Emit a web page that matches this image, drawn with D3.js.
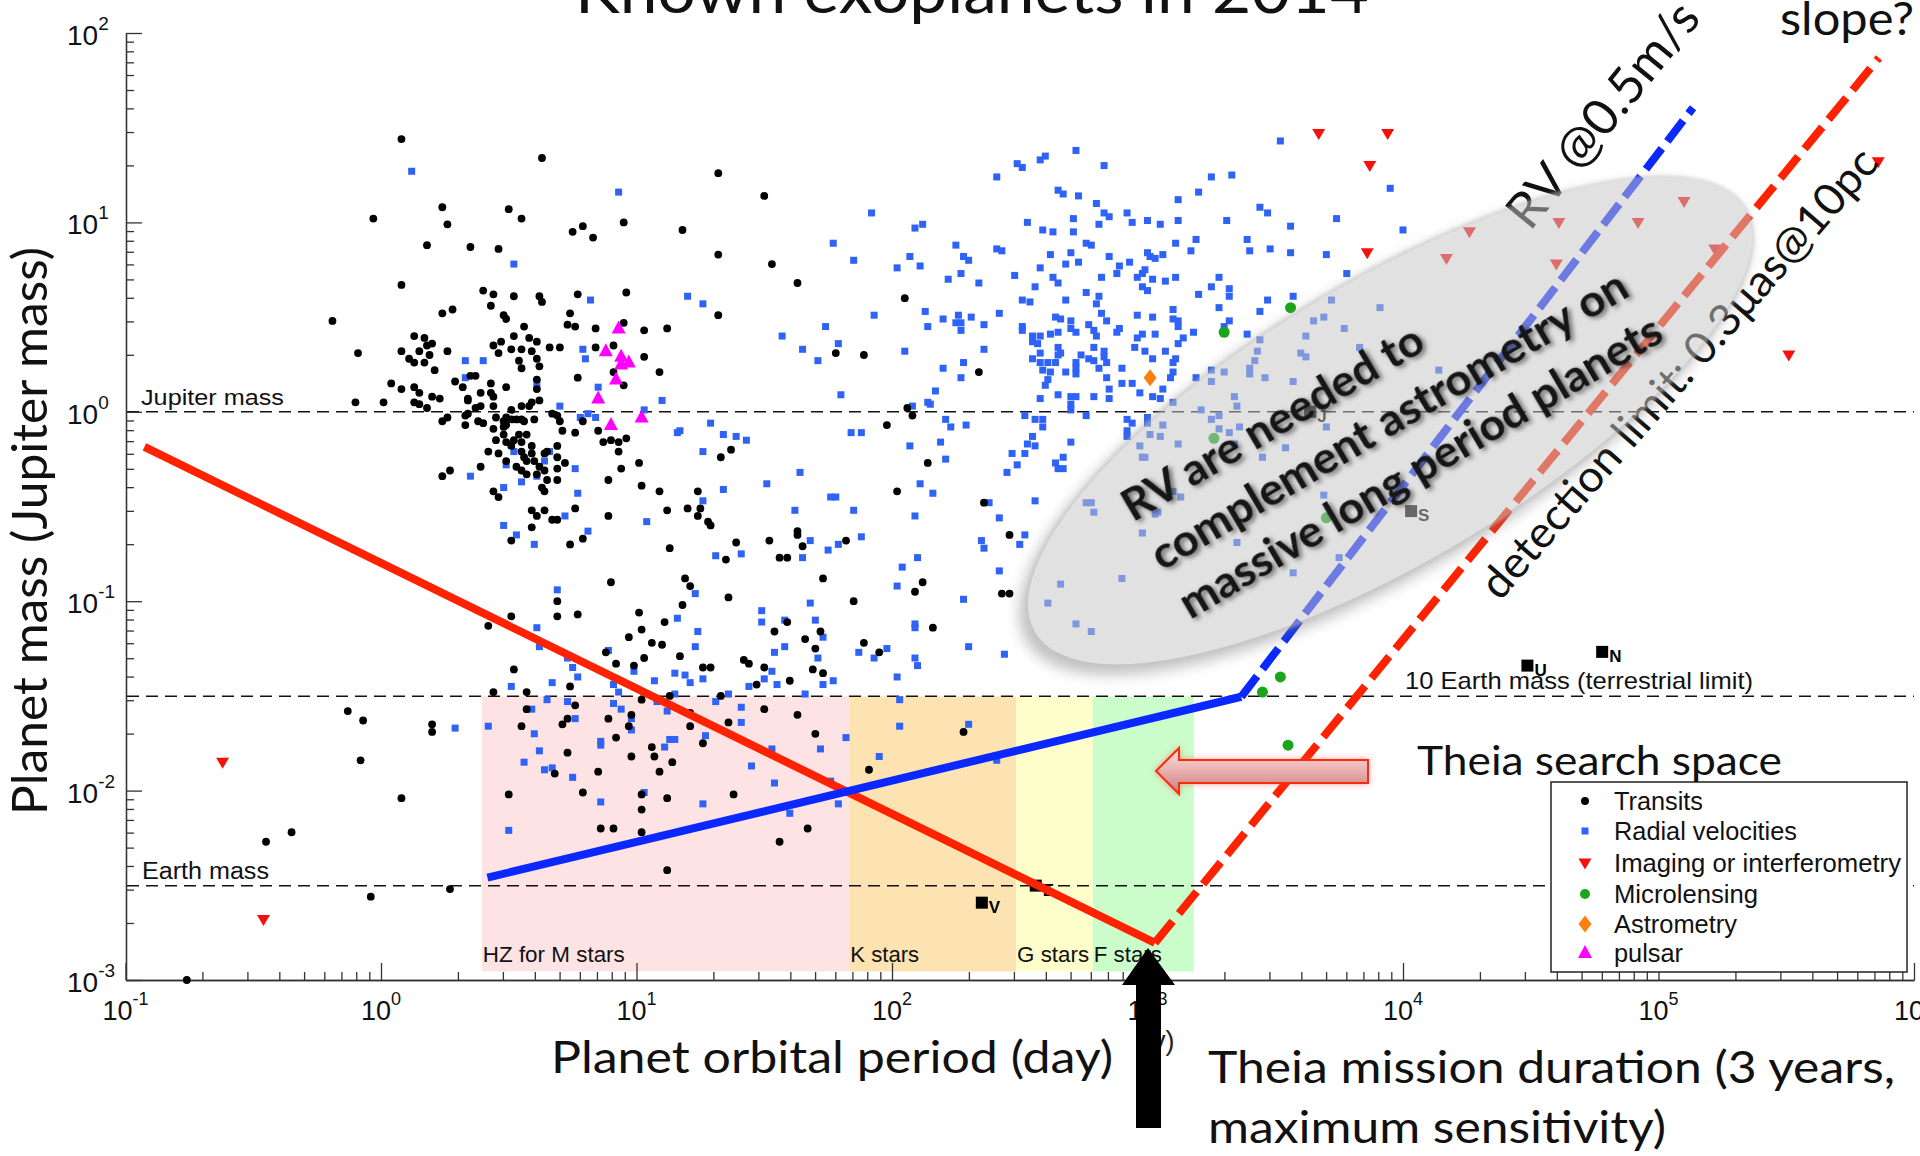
<!DOCTYPE html>
<html>
<head>
<meta charset="utf-8">
<script src="https://cdn.jsdelivr.net/npm/d3@7"></script>
<style>
body { margin: 0; background: #fff; }
svg { display: block; }
.mat { font-family: 'Liberation Sans', Arial, sans-serif; }
.cal { font-family: Lato, 'Open Sans', sans-serif; }
</style>
</head>
<body>
<svg id="chart" width="1920" height="1156"></svg>
<script>
'use strict';

// every planet is [log10 period (day), log10 mass (Jupiter mass)]
var transits = [
  [0.08,1.44],[0.63,1.34],[0.24,1.08],[0.26,0.99],[-0.03,1.02],[0.50,1.07],[0.55,1.02],[0.18,0.88],[0.35,0.87],[0.46,0.86],
  [0.75,0.95],[0.79,0.98],[0.83,0.92],[0.95,1.00],[1.18,0.96],[-0.76,-3.0],[-0.45,-2.27],[-0.35,-2.22],
  [-0.19,0.48],[0.08,0.67],[0.40,0.64],[0.44,0.62],[0.52,0.61],[0.43,0.56],[0.62,0.61],[0.63,0.58],[0.77,0.62],[0.96,0.63],
  [0.24,0.52],[0.28,0.54],[0.48,0.51],[0.49,0.49],[0.56,0.45],[0.74,0.52],[0.73,0.46],[0.76,0.45],[0.84,0.44],[0.95,0.47],
  [1.03,0.43],[1.12,0.44],[1.32,0.51],[-0.09,0.31],[0.13,0.40],[0.17,0.39],[0.20,0.36],[0.18,0.35],[0.08,0.32],[0.15,0.32],
  [0.19,0.30],[0.11,0.28],[0.13,0.26],[0.17,0.26],[0.21,0.22],[0.26,0.32],[0.44,0.35],[0.47,0.37],[0.46,0.31],[0.52,0.40],
  [0.51,0.33],[0.55,0.33],[0.58,0.39],[0.59,0.32],[0.61,0.37],[0.54,0.27],[0.55,0.23],[0.61,0.28],[0.62,0.24],[0.66,0.34],
  [0.70,0.34],[0.61,0.17],[0.61,0.12],[0.84,0.34],[0.91,0.35],[1.03,0.29],[0.91,0.21],[0.95,0.14],[0.77,0.18],[1.09,0.21],
  [0.04,0.15],[0.08,0.12],[0.13,0.13],[0.15,0.10],[0.20,0.08],[0.23,0.07],[0.13,0.05],[0.15,0.04],[0.18,0.02],[-0.10,0.05],
  [0.01,0.05],[0.29,0.16],[0.32,0.13],[0.35,0.19],[0.37,0.19],[0.43,0.15],[0.49,0.13],[0.39,0.10],[0.43,0.10],[0.34,0.07],
  [0.39,0.03],[0.44,0.08],[0.34,0.06],[0.34,-0.01],[0.37,0.02],[0.44,0.03],[0.55,0.03],[0.58,0.03],[0.59,0.05],[0.62,0.06],
  [0.51,0.01],[0.49,-0.03],[0.33,-0.02],[0.33,-0.07],[0.26,-0.03],[0.24,-0.05],[0.38,-0.05],[0.40,-0.06],[0.45,-0.03],[0.48,-0.05],
  [0.51,-0.04],[0.48,-0.08],[0.44,-0.09],[0.49,-0.07],[0.53,-0.04],[0.55,-0.04],[0.56,-0.05],[0.60,-0.04],[0.67,-0.01],[0.69,-0.02],
  [0.70,-0.05],[0.71,-0.10],[0.76,-0.11],[0.79,-0.05],[0.85,-0.10],[0.48,-0.12],[0.45,-0.15],[0.52,-0.15],[0.54,-0.12],[0.57,-0.12],
  [0.49,-0.16],[0.51,-0.18],[0.55,-0.16],[0.59,-0.18],[0.42,-0.21],[0.46,-0.22],[0.49,-0.26],[0.55,-0.21],[0.56,-0.24],[0.57,-0.26],
  [0.59,-0.22],[0.64,-0.22],[0.65,-0.21],[0.60,-0.26],[0.53,-0.29],[0.55,-0.31],[0.57,-0.33],[0.62,-0.29],[0.64,-0.31],[0.61,-0.33],
  [0.65,-0.36],[0.69,-0.36],[0.69,-0.24],[0.69,-0.18],[0.69,-0.30],[0.72,-0.27],[0.63,-0.40],[0.64,-0.42],[0.39,-0.29],[0.24,-0.34],
  [0.27,-0.31],[0.44,-0.42],[0.46,-0.45],[0.59,-0.52],[0.61,-0.55],[0.64,-0.52],[0.59,-0.61],[0.67,-0.57],[0.69,-0.57],[0.76,-0.51],
  [0.79,-0.67],[0.74,-0.70],[0.51,-0.68],[0.87,-0.16],[0.90,-0.15],[0.93,-0.16],[0.96,-0.14],[0.93,-0.21],[0.89,-0.36],[1.01,-0.27],
  [0.94,-0.30],[1.02,-0.39],[1.09,-0.42],[0.89,-0.55],[1.12,-0.52],[1.20,-0.51],[1.24,-0.42],[1.25,-0.51],[1.24,-0.55],[1.28,-0.58],
  [1.29,-0.60],[1.33,-0.24],[1.37,-0.20],[1.13,-0.72],[1.35,-0.78],[1.39,-0.69],[1.36,-0.98],[0.90,-0.90],[1.19,-0.88],[1.21,-0.92],
  [1.18,-1.02],[1.01,-1.06],[1.11,-1.11],[1.02,-1.15],[0.97,-1.19],[0.69,-1.00],[0.69,-1.08],[0.77,-1.07],[0.51,-1.08],[0.42,-1.13],
  [-0.13,-1.58],[-0.07,-1.63],[-0.08,-1.84],[0.20,-1.65],[0.20,-1.69],[0.08,-2.04],[0.27,-2.52],[-0.04,-2.56],
  [0.52,-1.36],[0.44,-1.48],[0.57,-1.48],[0.57,-1.57],[0.55,-1.66],[0.74,-1.45],[0.76,-1.55],[0.73,-1.62],[0.71,-1.65],[0.73,-1.80],
  [0.68,-1.91],[0.50,-2.02],[0.79,-2.01],[0.85,-1.90],[0.86,-2.20],[0.91,-2.20],[0.88,-1.27],[0.99,-1.34],[1.03,-1.30],[1.06,-1.22],
  [1.10,-1.23],[1.17,-1.29],[0.92,-1.33],[1.02,-1.52],[0.98,-1.60],[0.97,-1.66],[0.89,-1.62],[0.92,-1.72],[1.06,-1.77],[1.07,-1.82],
  [0.98,-1.82],[1.14,-1.85],[1.09,-1.90],[1.02,-2.02],[1.12,-2.04],[1.02,-2.10],[1.02,-2.22],[1.12,-2.42],[1.13,-1.50],[1.21,-1.66],[1.21,-1.59],
  [1.33,-1.50],[1.26,-1.35],[1.29,-1.35],[1.42,-1.31],[1.44,-1.33],[1.50,-1.35],[1.47,-1.44],[1.60,-1.42],[1.69,-1.36],[1.73,-1.38],
  [1.50,-1.57],[1.63,-1.60],[1.36,-1.64],[1.70,-1.70],[1.26,-1.75],[1.38,-2.02],[1.67,-2.20],[1.56,-2.27],[1.91,-1.89],[2.28,-1.69],
  [1.52,-0.68],[1.63,-0.63],[1.63,-0.65],[1.65,-0.71],[1.56,-0.77],[1.59,-0.77],[1.82,-0.68],[1.73,-0.88],[1.85,-1.00],[1.59,-1.11],
  [1.54,-1.16],[1.72,-1.16],[1.66,-1.20],[1.70,-1.25],[2.02,-0.42],[2.14,-0.27],[2.36,-0.48],[2.46,-0.65],[2.43,-0.96],[2.46,-0.96],
  [2.09,-0.95],[2.12,-0.90],[1.89,-1.22],[1.95,-1.27],[2.16,-1.14],
  [1.32,1.26],[1.50,1.14],[1.32,0.83],[1.53,0.78],[1.63,0.68],[2.05,0.60],[1.78,0.31],[1.89,0.30],[2.34,0.21],[2.06,0.02],[2.08,-0.02],[1.98,-0.07]
];

var radialVelocities = [
  [0.12,1.27],[0.93,1.16],[0.52,0.78],[1.20,0.61],
  [0.82,0.59],[1.26,0.57],[0.79,0.33],[0.80,0.28],[0.33,0.27],[0.40,0.27],[0.33,0.18],[0.61,0.14],[0.85,0.13],[1.10,0.06],
  [0.70,0.03],[1.03,0.01],[0.78,-0.03],[0.81,-0.01],[0.84,-0.03],[1.29,-0.06],[1.16,-0.11],[1.17,-0.10],[1.34,-0.12],[1.39,-0.13],
  [1.43,-0.15],[1.26,-0.21],[0.66,-0.21],[0.64,-0.26],[0.49,-0.28],[0.76,-0.30],[0.61,-0.34],[0.35,-0.34],[0.55,-0.37],[0.48,-0.40],
  [0.77,-0.43],[1.34,-0.41],[1.26,-0.47],[0.72,-0.55],[1.04,-0.58],[0.48,-0.60],[0.53,-0.65],[0.60,-0.70],[0.81,-0.63],[1.31,-0.76],
  [1.41,-0.75],[0.69,-0.94],[1.23,-0.96],[0.61,-1.14],[1.24,-1.16],[0.52,-0.21],[1.16,-1.09],
  [0.29,-1.67],[0.42,-1.66],[0.50,-2.21],[0.51,-1.45],[0.62,-1.24],[0.59,-1.57],[0.60,-1.70],[0.56,-1.85],[0.62,-1.79],[0.64,-1.89],
  [0.67,-1.88],[0.65,-1.52],[0.67,-1.43],[0.73,-1.30],[0.75,-1.35],[0.77,-1.40],[0.73,-1.53],[0.76,-1.62],[0.75,-1.93],[0.86,-2.06],
  [0.86,-1.76],[0.86,-1.74],[0.91,-1.54],[0.94,-1.57],[0.91,-1.44],[0.93,-1.48],[0.99,-1.37],[0.89,-1.26],[0.98,-1.68],[0.98,-1.62],
  [1.03,-2.01],[1.07,-1.42],[1.08,-1.53],[1.11,-1.77],[1.12,-1.58],[1.13,-1.73],[1.15,-1.73],[1.15,-1.38],[1.15,-1.49],[1.19,-1.39],
  [1.21,-1.43],[1.23,-1.24],
  [1.64,-0.32],[1.51,-0.38],[1.62,-0.52],[1.76,-0.45],[1.78,-0.45],[1.85,-0.52],[1.68,-0.68],[1.65,-0.77],[1.75,-0.73],[1.79,-0.70],
  [1.88,-0.66],[1.68,-1.01],[1.49,-1.05],[1.49,-1.11],[1.58,-1.10],[1.70,-1.10],[1.73,-1.19],[1.54,-1.27],[1.58,-1.24],[1.71,-1.30],
  [1.53,-1.37],[1.50,-1.41],[1.55,-1.44],[1.44,-1.45],[1.73,-1.44],[1.77,-1.42],[1.26,-1.41],[1.66,-1.49],[1.36,-1.49],[1.31,-1.53],
  [1.41,-1.56],[1.41,-1.64],[1.27,-1.71],[1.53,-1.78],[1.72,-1.78],[1.82,-1.72],[1.45,-1.87],[1.54,-1.96],[1.26,-2.07],[1.60,-2.12],
  [1.79,-2.07],[1.76,-1.95],[2.09,-0.55],[2.11,-0.38],[2.16,-0.43],[2.21,-0.25],[2.10,-0.77],[2.04,-0.82],[2.02,-0.92],[2.09,-1.12],
  [2.09,-1.14],[2.09,-1.30],[2.10,-1.34],[2.02,-1.40],[1.98,-1.25],[1.87,-1.27],[1.93,-1.30],[2.28,-0.99],[2.30,-1.24],[2.44,-1.28],
  [2.42,-0.84],[2.35,-0.68],[2.36,-0.72],[2.42,-0.56],[2.50,-0.70],[2.52,-0.65],[2.56,-0.47],[2.38,-0.48],[2.45,-0.32],[2.49,-0.28],
  [2.47,-0.22],[2.52,-0.22],[2.64,-0.27],[2.65,-0.30],[2.67,-0.30],[2.67,-0.24],[2.03,-1.52],[2.03,-1.66],[1.95,-1.82],[2.30,-1.65],
  [2.41,-1.84],[2.76,-0.48],[2.78,-0.48],[2.79,-0.53],[2.98,-0.64],[2.90,-0.88],[2.66,-0.91],[2.61,-1.01],[2.72,-1.12],[2.78,-1.16],
  [3.04,-0.53],[3.10,-0.42],[3.13,-0.45],[2.98,-0.24],
  [1.92,1.05],[1.77,0.89],[1.85,0.80],[2.09,0.97],[2.12,0.99],[2.02,0.76],[2.07,0.82],[2.11,0.77],[2.25,0.88],[2.28,0.82],
  [2.30,0.80],[2.22,0.70],[2.27,0.73],[2.34,0.68],[1.57,0.40],[1.65,0.33],[1.71,0.27],[1.74,0.45],[1.79,0.36],[1.80,0.09],
  [1.93,0.51],[2.05,0.32],[2.13,0.53],[2.14,0.45],[2.20,0.49],[2.26,0.51],[2.25,0.47],[2.27,0.47],[2.27,0.43],[2.31,0.50],
  [2.36,0.46],[2.20,0.23],[2.27,0.18],[2.28,0.26],[2.36,0.33],[2.17,0.11],[2.14,0.05],[2.15,0.04],[2.08,0.03],[2.21,-0.04],
  [2.23,-0.08],[2.29,-0.07],[2.19,-0.16],[2.07,-0.18],[1.84,-0.11],[1.88,-0.11],[2.42,0.52],[2.41,1.24],[2.49,1.31],[2.51,1.29],
  [2.58,1.33],[2.60,1.35],[2.72,1.38],[2.83,1.30],[2.65,1.17],[2.67,1.15],[2.73,1.14],[2.80,1.10],[2.83,1.05],[2.85,1.03],
  [2.92,1.05],[2.94,1.00],[3.00,1.01],[3.05,0.99],[3.12,1.01],[3.12,1.12],[3.20,1.16],[2.53,1.00],[2.71,1.02],[2.59,0.96],
  [2.63,0.95],[2.71,0.95],[2.81,0.99],[2.41,0.86],[2.43,0.85],[2.62,0.83],[2.70,0.84],[2.76,0.89],[2.78,0.88],[2.85,0.82],
  [2.89,0.77],[2.93,0.79],[3.00,0.84],[3.01,0.82],[3.03,0.81],[3.06,0.83],[3.11,0.89],[3.17,0.85],[3.19,0.91],[2.48,0.72],
  [2.58,0.76],[2.68,0.78],[2.73,0.79],[2.63,0.71],[2.65,0.68],[2.56,0.66],[2.82,0.71],[2.88,0.73],[2.96,0.71],[2.98,0.73],
  [2.99,0.75],[3.02,0.70],[3.07,0.69],[3.11,0.71],[2.98,0.66],[3.00,0.64],[2.76,0.63],[2.68,0.59],[2.81,0.61],[2.80,0.57],
  [2.51,0.59],[2.54,0.58],[3.20,0.62],[2.51,0.45],[2.51,0.43],[2.55,0.40],[2.58,0.40],[2.55,0.37],[2.57,0.36],[2.62,0.41],
  [2.65,0.42],[2.64,0.50],[2.66,0.49],[2.70,0.48],[2.70,0.44],[2.72,0.42],[2.77,0.46],[2.79,0.43],[2.80,0.40],[2.84,0.48],
  [2.88,0.42],[2.89,0.44],[2.82,0.52],[2.96,0.51],[3.02,0.50],[3.10,0.54],[3.10,0.49],[3.12,0.48],[3.12,0.45],[2.98,0.41],
  [3.03,0.41],[2.96,0.39],[2.95,0.34],[2.99,0.32],[3.02,0.28],[3.07,0.32],[3.12,0.36],[3.14,0.39],[3.18,0.42],[2.65,0.34],
  [2.66,0.31],[2.65,0.30],[2.58,0.31],[2.55,0.28],[2.58,0.26],[2.61,0.26],[2.64,0.26],[2.59,0.22],[2.62,0.21],[2.61,0.17],
  [2.60,0.14],[2.68,0.21],[2.72,0.26],[2.74,0.30],[2.77,0.28],[2.79,0.27],[2.81,0.23],[2.83,0.32],[2.83,0.29],[2.84,0.26],
  [2.79,0.34],[2.72,0.23],[2.72,0.20],[2.90,0.23],[2.84,0.18],[2.85,0.12],[2.85,0.07],[2.79,0.08],[2.72,0.08],[2.70,0.08],
  [2.65,0.09],[2.58,0.07],[2.90,0.15],[2.94,0.15],[2.97,0.10],[3.02,0.08],[3.05,0.07],[3.06,0.12],[3.10,0.26],[3.11,0.28],
  [3.10,0.21],[3.09,0.18],[2.70,0.04],[2.70,0.01],[2.76,-0.02],[2.52,-0.02],[2.56,-0.04],[2.59,-0.04],[2.59,-0.08],[2.55,-0.13],
  [2.53,-0.17],[2.56,-0.18],[2.70,-0.16],[2.92,-0.04],[2.94,-0.06],[2.92,-0.10],[2.92,-0.13],[3.00,-0.03],[3.00,-0.06],[3.19,0.18],[3.10,0.05],
  [3.52,1.43],[3.33,1.25],[3.25,1.24],[3.44,1.08],[3.47,1.05],[3.31,1.01],[3.56,0.98],[3.39,0.91],[3.40,0.85],[3.48,0.86],
  [3.56,0.84],[3.28,0.71],[3.25,0.66],[3.32,0.65],[3.32,0.61],[3.28,0.55],[3.47,0.59],[3.44,0.53],[3.57,0.61],[3.32,0.48],[3.30,0.45],[3.39,0.41],
  [3.95,1.18],[4.00,0.96],[3.74,1.02],[3.70,0.83],[3.78,0.73],[3.72,0.59],[3.91,0.55],[3.44,0.38],[3.65,0.48],[3.69,0.50],
  [3.77,0.44],[3.83,0.34],[3.43,0.32],[3.42,0.27],[3.62,0.40],[3.60,0.31],[3.62,0.29],[4.14,0.22],[3.25,0.16],[3.57,0.16],
  [3.25,0.22],[3.30,0.21],[3.40,0.23],[3.40,0.20],[3.46,0.18],[3.34,0.08],[3.21,0.01],[3.25,-0.04],[3.36,-0.08],[3.70,-0.08],
  [3.35,0.03],[3.28,-0.02],[3.28,-0.09],[3.32,-0.11],[3.26,-0.14],[3.54,-0.19],[3.45,-0.24],[3.34,-0.17],[3.06,-0.07],[3.01,-0.12],
  [3.05,-0.13],[2.97,-0.18],[2.99,-0.24],[3.12,-0.17],[3.69,-0.44],[3.03,-0.54],[3.35,-0.69],[3.57,-0.85],[3.75,-0.77]
];

var imaging = [
  [-0.62,-1.85],[-0.46,-2.68],[3.67,1.47],[3.94,1.47],[3.87,1.30],[3.86,0.84],[5.86,1.32],[5.51,0.30],
  [4.26,0.95],[4.17,0.81],[4.61,1.00],[4.92,1.00],[5.10,1.11],[4.60,0.78],[5.22,0.86]
];
var microlensing = [[3.56,0.55],[3.30,0.42],[3.26,-0.14],[3.70,-0.56],[3.52,-1.40],[3.45,-1.48],[3.55,-1.76]];
var astrometry = [[3.01,0.18]];
var pulsars = [[0.93,0.44],[0.88,0.32],[0.94,0.29],[0.97,0.26],[0.94,0.25],[0.92,0.17],[0.85,0.07],[1.02,-0.03],[0.90,-0.07]];

// solar system planets: period (day), mass (Jupiter mass)
var solarNames = ['V', 'E', 'J', 'S', 'U', 'N'];
var solarPeriods = [224.7, 365.25, 4333, 10759, 30687, 60190];
var solarMasses = [0.00256, 0.00315, 1, 0.299, 0.0457, 0.054];

// reference masses
var refLabels = ['Jupiter mass', '10 Earth mass (terrestrial limit)', 'Earth mass'];
var refMasses = [1, 0.03146, 0.003146];

// habitable zones: period range (day)
var hzLabels = ['HZ for M stars', 'K stars', 'G stars', 'F stars'];
var hzFrom = [2.48, 68, 306, 611];
var hzTo = [68, 306, 611, 1518];
var hzFloor = 0.00111;

// sensitivity curves [period, mass]
var astroSolid = [[0.1186, 0.653], [1069, 0.00157]];
var astroDashed = [[1069, 0.00157], [7.29e5, 73.9]];
var rvSolid = [[2.61, 0.00347], [2328, 0.0313]];
var rvDashed = [[2328, 0.0313], [1.365e5, 40.3]];

var legendLabels = ['Transits', 'Radial velocities', 'Imaging or interferometry', 'Microlensing', 'Astrometry', 'pulsar'];
var legendTypes = ['transit', 'rv', 'imaging', 'micro', 'astro', 'pulsar'];

var xTickExps = [-1, 0, 1, 2, 3, 4, 5, 6];
var yTickExps = [-3, -2, -1, 0, 1, 2];

var BLUE = '#2f63f7', RED = '#f5100c', GREEN = '#1ba51b', ORANGE = '#ff7f0e', MAGENTA = '#ff00ff';

var svg = d3.select('#chart');
var defs = svg.append('defs');

var x = d3.scaleLog().domain([0.1, 1e6]).range([125.5, 1914]);
var y = d3.scaleLog().domain([1e-3, 1e2]).range([980, 33]);
function px(d) { return x(Math.pow(10, d[0])); }
function py(d) { return y(Math.pow(10, d[1])); }

//Habitable zone bands
var hzColors = ['#fde3e3', '#fde3b2', '#fefecb', '#cbfdcb'];
var hzLabelWidths = [142, 69, 72, 68];
var hz = svg.append('g');
hzLabels.forEach(function (label, i) {
  hz.append('rect')
    .attr('x', x(hzFrom[i])).attr('width', x(hzTo[i]) - x(hzFrom[i]))
    .attr('y', y(refMasses[1])).attr('height', y(hzFloor) - y(refMasses[1]))
    .attr('fill', hzColors[i]);
});

//Reference mass lines
svg.append('g').selectAll('line').data(refMasses).enter().append('line')
  .attr('x1', 127).attr('x2', 1914)
  .attr('y1', function (d) { return y(d); }).attr('y2', function (d) { return y(d); })
  .attr('stroke', '#111').attr('stroke-width', 1.5).attr('stroke-dasharray', '12,7');

//Axes (log, ticks inward)
var majorX = xTickExps.map(function (e) { return Math.pow(10, e); });
var minorX = [];
xTickExps.slice(0, -1).forEach(function (e) { for (var m = 2; m < 10; m++) minorX.push(m * Math.pow(10, e)); });
var majorY = yTickExps.map(function (e) { return Math.pow(10, e); });
var minorY = [];
yTickExps.slice(0, -1).forEach(function (e) { for (var m = 2; m < 10; m++) minorY.push(m * Math.pow(10, e)); });

function styleAxis(g) {
  g.selectAll('path, line').attr('stroke', '#333').attr('stroke-width', 1.3);
}
svg.append('g').attr('transform', 'translate(0,980)')
  .call(d3.axisBottom(x).tickValues(minorX).tickSize(-8).tickSizeOuter(0).tickFormat(''))
  .call(styleAxis);
svg.append('g').attr('transform', 'translate(0,980)')
  .call(d3.axisBottom(x).tickValues(majorX).tickSize(-17).tickSizeOuter(0).tickFormat(''))
  .call(styleAxis);
svg.append('g').attr('transform', 'translate(126,0)')
  .call(d3.axisLeft(y).tickValues(minorY).tickSize(-8).tickSizeOuter(0).tickFormat(''))
  .call(styleAxis);
svg.append('g').attr('transform', 'translate(126,0)')
  .call(d3.axisLeft(y).tickValues(majorY).tickSize(-16).tickSizeOuter(0).tickFormat(''))
  .call(styleAxis);

//Tick labels 10^n
function expText(sel, size, expSize, shift) {
  sel.each(function (d) {
    var t = d3.select(this);
    t.append('tspan').attr('font-size', size).text('10');
    t.append('tspan').attr('font-size', expSize).attr('dy', shift).text(d < 0 ? '-' + (-d) : d);
  });
}
svg.append('g').attr('class', 'mat').selectAll('text').data(xTickExps).enter().append('text')
  .attr('x', function (d) { return x(Math.pow(10, d)); }).attr('y', 1020)
  .attr('text-anchor', 'middle').attr('fill', '#111')
  .call(expText, 27, 18, -15);
svg.append('g').attr('class', 'mat').selectAll('text').data(yTickExps).enter().append('text')
  .attr('x', 67).attr('y', function (d) { return y(Math.pow(10, d)) + 12; })
  .attr('fill', '#111')
  .call(expText, 28, 19, -15);

//Points
var pts = svg.append('g');
pts.selectAll('.rv').data(radialVelocities).enter().append('rect').attr('class', 'rv')
  .attr('x', function (d) { return px(d) - 3.5; }).attr('y', function (d) { return py(d) - 3.5; })
  .attr('width', 7).attr('height', 7).attr('fill', BLUE);
pts.selectAll('.tr').data(transits).enter().append('circle').attr('class', 'tr')
  .attr('cx', px).attr('cy', py).attr('r', 3.9).attr('fill', '#000');
var shapes = {
  imaging: 'M-6.5,-4.5L6.5,-4.5L0,6.5Z',
  pulsar: 'M0,-8L7,5L-7,5Z',
  astro: 'M0,-8.5L6.5,0L0,8.5L-6.5,0Z'
};
pts.selectAll('.im').data(imaging).enter().append('path').attr('class', 'im')
  .attr('d', shapes.imaging).attr('fill', RED)
  .attr('transform', function (d) { return 'translate(' + px(d) + ',' + py(d) + ')'; });
pts.selectAll('.ml').data(microlensing).enter().append('circle').attr('class', 'ml')
  .attr('cx', px).attr('cy', py).attr('r', 5.5).attr('fill', GREEN);
pts.selectAll('.as').data(astrometry).enter().append('path').attr('class', 'as')
  .attr('d', shapes.astro).attr('fill', ORANGE)
  .attr('transform', function (d) { return 'translate(' + px(d) + ',' + py(d) + ')'; });
pts.selectAll('.pu').data(pulsars).enter().append('path').attr('class', 'pu')
  .attr('d', shapes.pulsar).attr('fill', MAGENTA)
  .attr('transform', function (d) { return 'translate(' + px(d) + ',' + py(d) + ')'; });

//Solar system planets
var sol = svg.append('g').attr('class', 'mat');
solarNames.forEach(function (n, i) {
  var cx = x(solarPeriods[i]), cy = y(solarMasses[i]);
  sol.append('rect').attr('x', cx - 6).attr('y', cy - 6).attr('width', 12).attr('height', 12).attr('fill', '#000');
  sol.append('text').attr('x', cx + 7).attr('y', cy + 10).attr('font-size', 17).attr('font-weight', 'bold')
    .attr('fill', '#000').text(n);
});

//Reference mass labels and HZ labels
var lab = svg.append('g').attr('class', 'mat').attr('fill', '#111');
lab.append('text').attr('x', 141).attr('y', 405).attr('font-size', 22).attr('textLength', 143).attr('lengthAdjust', 'spacingAndGlyphs').text(refLabels[0]);
lab.append('text').attr('x', 1405).attr('y', 689).attr('font-size', 24).attr('textLength', 348).attr('lengthAdjust', 'spacingAndGlyphs').text(refLabels[1]);
lab.append('text').attr('x', 142).attr('y', 879).attr('font-size', 23).attr('textLength', 127).attr('lengthAdjust', 'spacingAndGlyphs').text(refLabels[2]);
hzLabels.forEach(function (label, i) {
  lab.append('text').attr('x', x(hzFrom[i]) + 1).attr('y', 962).attr('font-size', 22)
    .attr('textLength', hzLabelWidths[i]).attr('lengthAdjust', 'spacingAndGlyphs').text(label);
});

//Sensitivity curves
var line = d3.line().x(function (d) { return x(d[0]); }).y(function (d) { return y(d[1]); });
var curves = svg.append('g').attr('fill', 'none').attr('stroke-width', 8);
curves.append('path').attr('d', line(astroSolid)).attr('stroke', '#ff2200');
curves.append('path').attr('d', line(astroDashed)).attr('stroke', '#ff2200').attr('stroke-dasharray', '28,10');
curves.append('path').attr('d', line(rvSolid)).attr('stroke', '#0a28ff');
curves.append('path').attr('d', line(rvDashed)).attr('stroke', '#0a28ff').attr('stroke-dasharray', '26,9');

//Rotated annotations along the curves
var ann = svg.append('g').attr('class', 'cal').attr('fill', '#111');
ann.append('text').attr('transform', 'translate(1530,232) rotate(-51)').attr('font-size', 50)
  .attr('textLength', 274).attr('lengthAdjust', 'spacingAndGlyphs').text('RV @0.5m/s');
ann.append('text').attr('transform', 'translate(1500,602) rotate(-49)').attr('font-size', 44)
  .attr('textLength', 580).attr('lengthAdjust', 'spacingAndGlyphs').text('detection limit: 0.3\u03bcas@10pc');

//Grey ellipse with a soft shadow outside its lower-left rim
var W = 1920, H = 1156;
var ellT = 'translate(1390,421) rotate(-30.8)';
var blur = defs.append('filter').attr('id', 'blur6').attr('x', '-20%').attr('y', '-40%').attr('width', '140%').attr('height', '180%');
blur.append('feGaussianBlur').attr('stdDeviation', 7);
var soft = defs.append('filter').attr('id', 'soft').attr('x', '-10%').attr('y', '-20%').attr('width', '120%').attr('height', '140%');
soft.append('feGaussianBlur').attr('stdDeviation', 1.6);
var mask = defs.append('mask').attr('id', 'outside').attr('maskUnits', 'userSpaceOnUse')
  .attr('x', 0).attr('y', 0).attr('width', W).attr('height', H);
mask.append('rect').attr('width', W).attr('height', H).attr('fill', '#fff');
mask.append('ellipse').attr('rx', 413).attr('ry', 140).attr('transform', ellT).attr('fill', '#000');
svg.append('g').attr('mask', 'url(#outside)')
  .append('ellipse').attr('rx', 416).attr('ry', 143).attr('transform', 'translate(1384,429) rotate(-30.8)')
  .attr('fill', '#777').attr('opacity', 0.45).attr('filter', 'url(#blur6)');
svg.append('ellipse').attr('rx', 416).attr('ry', 143).attr('transform', ellT)
  .attr('fill', '#c6c6c6').attr('fill-opacity', 0.52).attr('filter', 'url(#soft)');

//Ellipse text
var ts = defs.append('filter').attr('id', 'tshadow').attr('x', '-10%').attr('y', '-30%').attr('width', '120%').attr('height', '160%');
ts.append('feDropShadow').attr('dx', 2).attr('dy', 3).attr('stdDeviation', 2.5).attr('flood-color', '#000').attr('flood-opacity', 0.55);
var ellLines = ['RV are needed to', 'complement astrometry on', 'massive long period planets'];
var ellWidths = [342, 545, 552];
var ellBase = [-43, 13.7, 70];
var eg = svg.append('g').attr('class', 'cal').attr('transform', 'translate(1390,421) rotate(-30.5)')
  .attr('filter', 'url(#tshadow)');
ellLines.forEach(function (t, i) {
  eg.append('text').attr('x', -273).attr('y', ellBase[i]).attr('font-size', 44).attr('font-weight', 'bold')
    .attr('fill', '#151515').attr('textLength', ellWidths[i]).attr('lengthAdjust', 'spacingAndGlyphs').text(t);
});

//Theia search space arrow (hollow red, gradient)
var grad = defs.append('linearGradient').attr('id', 'arrowGrad').attr('gradientUnits', 'userSpaceOnUse')
  .attr('x1', 0).attr('y1', 748).attr('x2', 0).attr('y2', 793);
grad.append('stop').attr('offset', 0).attr('stop-color', '#fbe2e2');
grad.append('stop').attr('offset', 0.5).attr('stop-color', '#eab0b0');
grad.append('stop').attr('offset', 1).attr('stop-color', '#c98080');
var glow = defs.append('filter').attr('id', 'glow').attr('x', '-10%').attr('y', '-50%').attr('width', '120%').attr('height', '200%');
glow.append('feDropShadow').attr('dx', 0).attr('dy', 0).attr('stdDeviation', 3).attr('flood-color', '#ff5050').attr('flood-opacity', 0.55);
svg.append('path').attr('d', 'M1156,771L1179,748L1179,760L1368,760L1368,783L1179,783L1179,794Z')
  .attr('fill', 'url(#arrowGrad)').attr('stroke', '#ff2a10').attr('stroke-width', 2).attr('filter', 'url(#glow)');

//Legend
var leg = svg.append('g').attr('class', 'mat');
leg.append('rect').attr('x', 1551).attr('y', 782).attr('width', 356).attr('height', 190)
  .attr('fill', '#fff').attr('stroke', '#222').attr('stroke-width', 1.5);
var legWidths = [89, 183, 287, 144, 123, 69];
var legBase = [810, 840, 872, 903, 933, 962];
legendLabels.forEach(function (label, i) {
  var my = legBase[i] - 9, t = legendTypes[i], g = leg.append('g').attr('transform', 'translate(1585,' + my + ')');
  if (t === 'transit') g.append('circle').attr('r', 4).attr('fill', '#000');
  if (t === 'rv') g.append('rect').attr('x', -3.5).attr('y', -3.5).attr('width', 7).attr('height', 7).attr('fill', BLUE);
  if (t === 'imaging') g.append('path').attr('d', shapes.imaging).attr('fill', RED);
  if (t === 'micro') g.append('circle').attr('r', 5).attr('fill', GREEN);
  if (t === 'astro') g.append('path').attr('d', shapes.astro).attr('fill', ORANGE);
  if (t === 'pulsar') g.append('path').attr('d', shapes.pulsar).attr('fill', MAGENTA);
  leg.append('text').attr('x', 1614).attr('y', legBase[i]).attr('font-size', 25).attr('fill', '#111')
    .attr('textLength', legWidths[i]).attr('lengthAdjust', 'spacingAndGlyphs').text(label);
});

//Titles and annotations
var txt = svg.append('g').attr('class', 'cal').attr('fill', '#111');
txt.append('text').attr('x', 575).attr('y', 13).attr('font-size', 62)
  .attr('textLength', 794).attr('lengthAdjust', 'spacingAndGlyphs').text('Known exoplanets in 2014');
txt.append('text').attr('transform', 'translate(47,815) rotate(-90)').attr('font-size', 48)
  .attr('textLength', 568).attr('lengthAdjust', 'spacingAndGlyphs').text('Planet mass (Jupiter mass)');
txt.append('text').attr('x', 551).attr('y', 1073).attr('font-size', 44)
  .attr('textLength', 562).attr('lengthAdjust', 'spacingAndGlyphs').text('Planet orbital period (day)');
txt.append('text').attr('x', 1780).attr('y', 35).attr('font-size', 46)
  .attr('textLength', 134).attr('lengthAdjust', 'spacingAndGlyphs').text('slope?');
txt.append('text').attr('x', 1417).attr('y', 775).attr('font-size', 40)
  .attr('textLength', 365).attr('lengthAdjust', 'spacingAndGlyphs').text('Theia search space');
txt.append('text').attr('x', 1208).attr('y', 1083).attr('font-size', 44)
  .attr('textLength', 687).attr('lengthAdjust', 'spacingAndGlyphs').text('Theia mission duration (3 years,');
txt.append('text').attr('x', 1208).attr('y', 1143).attr('font-size', 44)
  .attr('textLength', 458).attr('lengthAdjust', 'spacingAndGlyphs').text('maximum sensitivity)');
svg.append('text').attr('class', 'mat').attr('x', 1152).attr('y', 1050).attr('font-size', 27)
  .attr('fill', '#222').text('y)');

//Mission duration arrow (black)
svg.append('path').attr('d', 'M1148,948L1175,985L1161,985L1161,1128L1136,1128L1136,985L1122,985Z')
  .attr('fill', '#000');
</script>
</body>
</html>
